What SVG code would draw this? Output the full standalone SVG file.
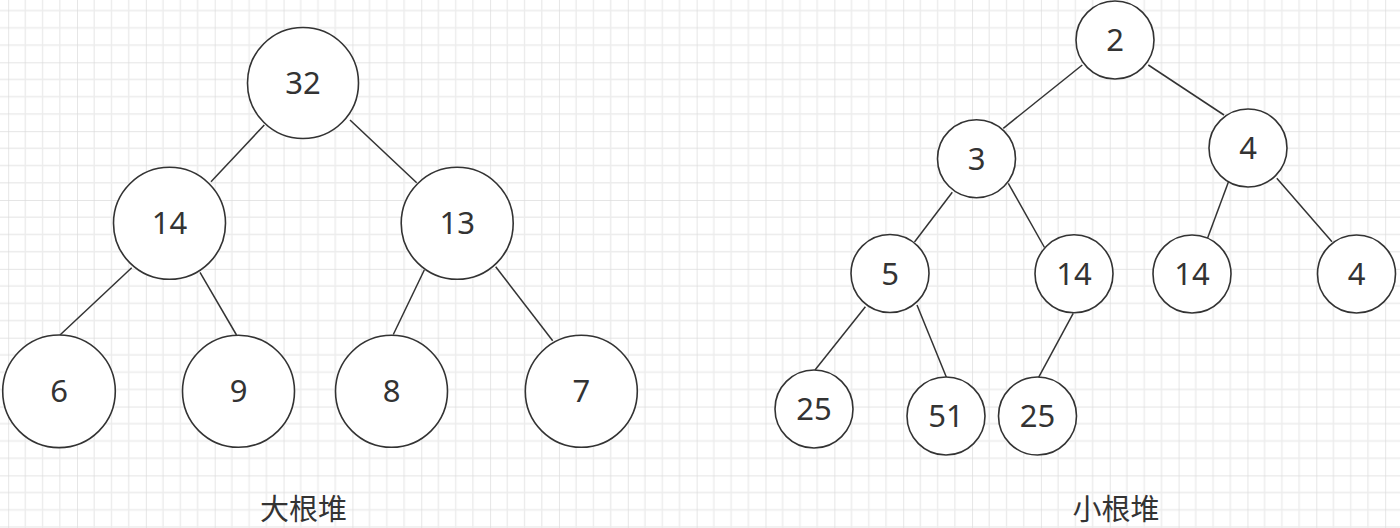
<svg xmlns="http://www.w3.org/2000/svg" width="1400" height="528" viewBox="0 0 1400 528">
<defs>
<pattern id="grid" x="8.15" y="-6.55" width="68.85" height="68.85" patternUnits="userSpaceOnUse">
<g stroke="#ececec" stroke-width="1.4" fill="none">
<line x1="17.21" y1="0" x2="17.21" y2="68.85"/>
<line x1="34.43" y1="0" x2="34.43" y2="68.85"/>
<line x1="51.64" y1="0" x2="51.64" y2="68.85"/>
<line x1="0" y1="17.21" x2="68.85" y2="17.21"/>
<line x1="0" y1="34.43" x2="68.85" y2="34.43"/>
<line x1="0" y1="51.64" x2="68.85" y2="51.64"/>
</g>
<g stroke="#dcdcdc" stroke-width="1.4" fill="none">
<line x1="0" y1="0" x2="0" y2="68.85"/>
<line x1="0" y1="0" x2="68.85" y2="0"/>
</g>
</pattern>
<style>
.n circle{fill:#ffffff;stroke:#333333;stroke-width:1.6}
.n text{font-family:"Noto Sans","Open Sans","Liberation Sans",sans-serif;font-size:31px;fill:#333333;text-anchor:middle}
.e line{stroke:#333333;stroke-width:1.5}
.lbl{font-family:"Noto Sans CJK SC","Noto Sans",sans-serif;font-size:29px;fill:#333333;text-anchor:middle}
</style>
</defs>
<rect width="1400" height="528" fill="#ffffff"/>
<rect width="1400" height="528" fill="url(#grid)"/>
<g id="connectors" class="e">
<line x1="264.3" y1="125" x2="211" y2="181.7"/>
<line x1="350" y1="120" x2="416.7" y2="182.7"/>
<line x1="131.7" y1="267.7" x2="60" y2="335"/>
<line x1="200" y1="272.3" x2="236.5" y2="335"/>
<line x1="424.3" y1="270" x2="393.3" y2="334.5"/>
<line x1="495.7" y1="266.7" x2="552.7" y2="340.7"/>
<line x1="1082.3" y1="65" x2="1003.3" y2="128.3"/>
<line x1="1148.3" y1="65" x2="1224" y2="115"/>
<line x1="952.3" y1="192.3" x2="914.5" y2="242"/>
<line x1="1008.3" y1="183.3" x2="1044.5" y2="247.5"/>
<line x1="1228.5" y1="181.7" x2="1207.5" y2="238.3"/>
<line x1="1276.8" y1="178.3" x2="1332" y2="241.7"/>
<line x1="865.4" y1="306.7" x2="815" y2="370"/>
<line x1="917" y1="305" x2="946.4" y2="377.3"/>
<line x1="1073.2" y1="313.3" x2="1038.6" y2="377.3"/>
</g>
<g id="n32" class="n"><circle cx="303" cy="83" r="55.5"/><text x="303" y="94">32</text></g>
<g id="n14L" class="n"><circle cx="169.5" cy="223.3" r="56"/><text x="169.5" y="234.3">14</text></g>
<g id="n13" class="n"><circle cx="457.2" cy="223.3" r="56"/><text x="457.2" y="234.3">13</text></g>
<g id="n6" class="n"><circle cx="59" cy="391.3" r="56.3"/><text x="59" y="402.3">6</text></g>
<g id="n9" class="n"><circle cx="238.5" cy="391.3" r="56"/><text x="238.5" y="402.3">9</text></g>
<g id="n8" class="n"><circle cx="391.5" cy="391.3" r="56"/><text x="391.5" y="402.3">8</text></g>
<g id="n7" class="n"><circle cx="581.3" cy="391.3" r="56"/><text x="581.3" y="402.3">7</text></g>
<g id="n2" class="n"><circle cx="1115" cy="40" r="39"/><text x="1115" y="51">2</text></g>
<g id="n3" class="n"><circle cx="976.5" cy="158.7" r="39"/><text x="976.5" y="169.7">3</text></g>
<g id="n4" class="n"><circle cx="1248" cy="148" r="39"/><text x="1248" y="159">4</text></g>
<g id="n5" class="n"><circle cx="890" cy="273.5" r="39"/><text x="890" y="284.5">5</text></g>
<g id="n14a" class="n"><circle cx="1074" cy="273.8" r="39"/><text x="1074" y="284.8">14</text></g>
<g id="n14b" class="n"><circle cx="1192" cy="274" r="39"/><text x="1192" y="285">14</text></g>
<g id="n4b" class="n"><circle cx="1356.5" cy="274" r="39"/><text x="1356.5" y="285">4</text></g>
<g id="n25a" class="n"><circle cx="814" cy="409" r="39"/><text x="814" y="420">25</text></g>
<g id="n51" class="n"><circle cx="946" cy="416" r="39"/><text x="946" y="427">51</text></g>
<g id="n25b" class="n"><circle cx="1037.5" cy="416" r="39"/><text x="1037.5" y="427">25</text></g>
<g id="label-max"><text class="lbl" x="303.5" y="519.5">大根堆</text></g>
<g id="label-min"><text class="lbl" x="1116" y="519.5">小根堆</text></g>
</svg>
